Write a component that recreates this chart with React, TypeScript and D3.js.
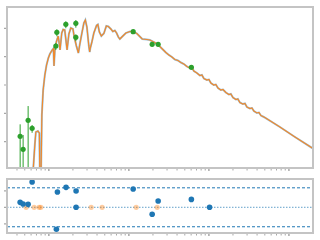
import React from "react";
import * as d3 from "d3";

// Model spectrum: wavelength (micron) and flux
const specWave = [
  0.0631, 0.0668, 0.0688, 0.0729, 0.0761, 0.0772, 0.0799, 0.0818, 0.0849, 0.0891,
  0.0936, 0.0986, 0.103, 0.110, 0.114, 0.116, 0.119, 0.124, 0.131, 0.138,
  0.145, 0.151, 0.158, 0.169, 0.178, 0.188, 0.2, 0.208, 0.221, 0.234,
  0.244, 0.259, 0.274, 0.286, 0.299, 0.316, 0.324, 0.330, 0.345, 0.365,
  0.395, 0.410, 0.428, 0.453, 0.487, 0.523, 0.554, 0.596, 0.631, 0.668,
  0.702, 0.739, 0.772, 0.829, 0.917, 1.03, 1.13, 1.26, 1.37, 1.47,
  1.68, 1.83, 2.11, 2.44, 2.66, 2.90, 3.16, 3.45, 3.76, 4.10,
  4.47, 4.87, 5.31, 5.79, 6.13, 6.49, 7.08, 7.72, 8.18, 8.66,
  9.44, 10.0, 10.6, 11.5, 12.2, 13.0, 14.1, 15.0, 16.3, 17.8,
  18.8, 20.0, 21.8, 23.0, 24.4, 26.6, 28.2, 29.9, 32.6, 34.5,
  36.5, 39.8, 42.2, 44.7, 47.3, 50.1, 77.2, 119, 200,
];
const specFlux = [
  0.000665, 0.00762, 0.0219, 0.0238, 0.0202, 0.000665, 0.000665, 0.0873, 0.665, 2.25,
  5.08, 8.97, 12.4, 17.2, 19.4, 4.68, 17.2, 32.9, 53.6, 17.2,
  68.4, 91.0, 87.3, 17.2, 63.1, 103, 94.7, 49.4, 23.8, 13.5,
  28.0, 68.4, 154, 197, 111, 23.8, 14.6, 20.2, 32.9, 68.4,
  126, 136, 74.2, 53.6, 65.7, 121, 116, 94.7, 77.3, 83.8,
  68.4, 49.4, 42.0, 51.5, 68.4, 77.3, 77.3, 65.7, 51.5, 42.0,
  40.4, 38.7, 31.6, 22.9, 17.9, 14.0, 11.5, 9.72, 7.94, 7.32,
  6.22, 5.51, 4.50, 3.98, 4.14, 3.12, 2.65, 2.16, 2.25, 1.69,
  1.50, 1.56, 1.17, 1.00, 1.04, 0.783, 0.665, 0.693, 0.543, 0.461,
  0.481, 0.361, 0.308, 0.320, 0.241, 0.213, 0.222, 0.167, 0.148, 0.154,
  0.121, 0.103, 0.107, 0.0838, 0.0773, 0.0711, 0.0329, 0.0146, 0.00573,
];

// Photometry
const photWave = [0.0438, 0.0477, 0.0551, 0.0618, 0.1223, 0.1259, 0.1631, 0.2175, 0.2175, 1.132, 1.955, 2.323, 6.04];
const photFlux = [0.01545, 0.00537, 0.0568, 0.0296, 23.8, 72.4, 138.7, 150.6, 48.2, 76.0, 27.3, 27.3, 4.21];
const photErr = [0.0255, 0.0118, 0.124, 0.009, 6.5, 20, 38, 45, 13, 8, 3, 3, 0.45];

// Residuals (chi)
const residWave = [0.0438, 0.0477, 0.0551, 0.0618, 0.1243, 0.1280, 0.1640, 0.2190, 0.2190, 1.132, 1.955, 2.323, 6.04, 10.2];
const residChi = [0.30, 0.20, 0.18, 1.53, -1.33, 0.93, 1.21, 0.99, 0.0, 1.11, -0.42, 0.38, 0.48, 0.0];
const maskedWave = [0.052, 0.0655, 0.0756, 0.0794, 0.338, 0.4634, 1.234, 2.259];
const maskedChi = [0, 0, 0, 0, 0, 0, 0, 0];

const xTicksMajor = [0.1, 1, 10, 100];
const yTicksMajor = [0.01, 0.1, 1, 10, 100];
const chiTicks = [-1, 0, 1];
const chiBand = [-1.18, 1.18];

const L = 7, R = 313;
const T1 = 7, B1 = 168;
const T2 = 179, B2 = 233;

export default function App() {
  const x = d3.scaleLog().domain([0.03, 200]).range([L, R]);
  const y = d3.scaleLog().domain([0.001178, 566]).range([B1, T1]);
  const yr = d3.scaleLinear().domain([-1.558, 1.715]).range([B2, T2]);

  const minorX: number[] = [];
  for (let e = -2; e <= 2; e++) {
    for (let k = 2; k <= 9; k++) {
      const v = k * Math.pow(10, e);
      if (v > 0.03 && v < 200) minorX.push(v);
    }
  }

  const line = d3
    .line<number>()
    .x((_, i) => x(specWave[i]))
    .y((_, i) => y(specFlux[i]));
  const pathD = line(specFlux) || "";

  const spine = "#c4c4c4";
  const tickC = "#a8a8a8";

  const xTicks = (yb: number) => (
    <g>
      {minorX.map((v, i) => (
        <line key={"m" + i} x1={x(v)} x2={x(v)} y1={yb + 1} y2={yb + 2.5} stroke={tickC} strokeWidth={1} />
      ))}
      {xTicksMajor.map((v, i) => (
        <line key={"M" + i} x1={x(v)} x2={x(v)} y1={yb + 1} y2={yb + 3} stroke={tickC} strokeWidth={1.5} />
      ))}
    </g>
  );

  return (
    <svg width={320} height={240} style={{ position: "absolute", left: 0, top: 0, background: "#fff" }}>
      <defs>
        <clipPath id="c1">
          <rect x={L} y={T1} width={R - L} height={B1 - T1} />
        </clipPath>
        <clipPath id="c2">
          <rect x={L} y={T2} width={R - L} height={B2 - T2} />
        </clipPath>
      </defs>

      {/* top panel */}
      <g clipPath="url(#c1)">
        <path d={pathD} fill="none" stroke="#1f77b4" strokeOpacity={0.45} strokeWidth={2} />
        <path d={pathD} fill="none" stroke="#ff7f0e" strokeOpacity={0.85} strokeWidth={1.2} />
        {photWave.map((w, i) => {
          const lo = photFlux[i] - photErr[i];
          const hi = photFlux[i] + photErr[i];
          return (
            <g key={i}>
              <line
                x1={x(w)}
                x2={x(w)}
                y1={lo > 0 ? y(lo) : B1 + 5}
                y2={y(hi)}
                stroke="#2ca02c"
                strokeWidth={1}
              />
              <circle cx={x(w)} cy={y(photFlux[i])} r={2.6} fill="#2ca02c" />
            </g>
          );
        })}
      </g>
      <rect x={L} y={T1} width={R - L} height={B1 - T1} fill="none" stroke={spine} strokeWidth={2} />
      {yTicksMajor.map((v, i) => (
        <line key={i} x1={L - 3} x2={L - 1} y1={y(v)} y2={y(v)} stroke={tickC} strokeWidth={1.2} />
      ))}
      {xTicks(B1)}

      {/* residual panel */}
      <g clipPath="url(#c2)">
        <line x1={L} x2={R} y1={yr(0)} y2={yr(0)} stroke="#1f77b4" strokeOpacity={0.7} strokeWidth={1} strokeDasharray="1.5,1.5" />
        {chiBand.map((v, i) => (
          <line key={i} x1={L} x2={R} y1={yr(v)} y2={yr(v)} stroke="#1f77b4" strokeWidth={1} strokeDasharray="3,2" />
        ))}
        {maskedWave.map((w, i) => (
          <circle key={"o" + i} cx={x(w)} cy={yr(maskedChi[i])} r={2.6} fill="#ff7f0e" fillOpacity={0.4} />
        ))}
        {residWave.map((w, i) => (
          <circle key={"b" + i} cx={x(w)} cy={yr(residChi[i])} r={2.8} fill="#1f77b4" />
        ))}
      </g>
      <rect x={L} y={T2} width={R - L} height={B2 - T2} fill="none" stroke={spine} strokeWidth={2} />
      {chiTicks.map((v, i) => (
        <line key={i} x1={L - 3} x2={L - 1} y1={yr(v)} y2={yr(v)} stroke={tickC} strokeWidth={1.2} />
      ))}
      {xTicks(B2)}
    </svg>
  );
}
